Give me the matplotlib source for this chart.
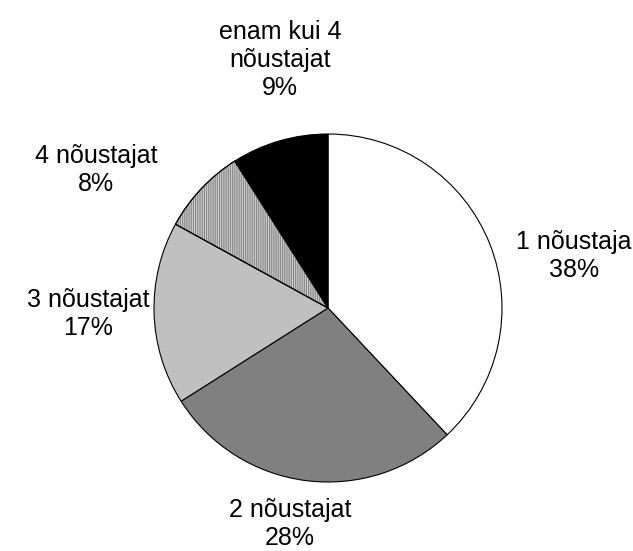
import matplotlib.pyplot as plt
from matplotlib.patches import Wedge

# data
labels = ["1 nõustaja", "2 nõustajat", "3 nõustajat", "4 nõustajat", "enam kui 4\nnõustajat"]
values = [38, 28, 17, 8, 9]

colors = ["#ffffff", "#808080", "#c0c0c0", "#d0d0d0", "#000000"]
# label centres in pixels (x, y from top)
label_pos = [(574, 256), (290, 524), (88, 314), (96, 170), (280, 60)]

W, H = 633, 551
fig = plt.figure(figsize=(W / 100, H / 100), dpi=100)
ax = fig.add_axes([0, 0, 1, 1])

cx, cy, r = 328, H - 308, 174
wedges, _ = ax.pie(values, colors=colors, startangle=90, counterclock=False,
                   center=(cx, cy), radius=r, frame=True,
                   wedgeprops=dict(edgecolor="black", linewidth=0.8))
ax.set_xlim(0, W)
ax.set_ylim(0, H)
ax.set_aspect("equal")
ax.axis("off")

# fine vertical lines for the "4 noustajat" slice
plt.rcParams["hatch.linewidth"] = 0.6
w = wedges[3]
hatch = Wedge(w.center, w.r, w.theta1, w.theta2, facecolor="none",
              edgecolor="#7a7a7a", linewidth=0, hatch="|||||||||")
ax.add_patch(hatch)
outline = Wedge(w.center, w.r, w.theta1, w.theta2, facecolor="none",
                edgecolor="black", linewidth=0.8)
ax.add_patch(outline)

for lab, v, (x, y) in zip(labels, values, label_pos):
    ax.text(x, H - y, f"{lab}\n{v}%", ha="center", va="center",
            fontsize=18, family="Liberation Sans", color="black")

fig.savefig("out.png", dpi=100)
